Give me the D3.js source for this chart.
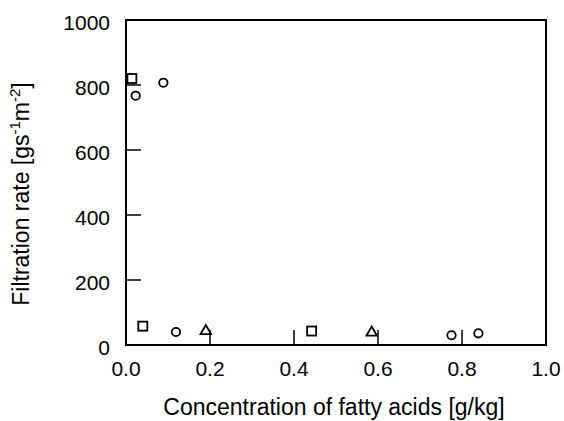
<!DOCTYPE html>
<html>
<head>
<meta charset="utf-8">
<script src="https://cdn.jsdelivr.net/npm/d3@7"></script>
<style>
  html, body { margin: 0; padding: 0; background: #fff; }
  svg text { font-family: 'Liberation Sans', Arial, sans-serif; fill: #000; }
</style>
</head>
<body>
<div id="chart"></div>
<script>
(function () {
  'use strict';

  // ── Data ──────────────────────────────────────────────────────
  const squares   = [[0.014, 820], [0.040, 58], [0.442, 43]];
  const circles   = [[0.023, 767], [0.089, 807], [0.119, 40], [0.775, 30], [0.839, 36]];
  const triangles = [[0.190, 43], [0.585, 38]];

  const xTicks = [0.0, 0.2, 0.4, 0.6, 0.8, 1.0];
  const yTicks = [0, 200, 400, 600, 800, 1000];
  const xInnerTicks = [0.2, 0.4, 0.6, 0.8];
  const yInnerTicks = [200, 400, 600, 800];

  // ── Layout ────────────────────────────────────────────────────
  const W = 564, H = 421;
  const L = 126, R = 546, T = 20, B = 345;

  const x = d3.scaleLinear().domain([0, 1]).range([L, R]);
  const y = d3.scaleLinear().domain([0, 1000]).range([B, T]);

  const svg = d3.select('#chart').append('svg')
    .attr('width', W).attr('height', H);

  // frame
  svg.append('rect')
    .attr('x', L).attr('y', T)
    .attr('width', R - L).attr('height', B - T)
    .attr('fill', 'none').attr('stroke', '#000').attr('stroke-width', 2);

  // inner ticks
  svg.append('g').selectAll('line').data(xInnerTicks).join('line')
    .attr('x1', d => x(d)).attr('x2', d => x(d))
    .attr('y1', B).attr('y2', B - 15)
    .attr('stroke', '#000').attr('stroke-width', 1.5);
  svg.append('g').selectAll('line').data(yInnerTicks).join('line')
    .attr('x1', L).attr('x2', L + 15)
    .attr('y1', d => y(d)).attr('y2', d => y(d))
    .attr('stroke', '#000').attr('stroke-width', 1.5);

  // tick labels
  svg.append('g').selectAll('text').data(xTicks).join('text')
    .attr('x', d => x(d)).attr('y', 376)
    .attr('text-anchor', 'middle')
    .attr('font-size', '21px')
    .text(d => d.toFixed(1));
  svg.append('g').selectAll('text').data(yTicks).join('text')
    .attr('x', 110).attr('y', d => y(d) + 9.5)
    .attr('text-anchor', 'end')
    .attr('font-size', '21px')
    .text(d => d);

  // axis titles
  svg.append('text')
    .attr('x', 334).attr('y', 415)
    .attr('text-anchor', 'middle')
    .attr('font-size', '23px')
    .text('Concentration of fatty acids [g/kg]');

  const yt = svg.append('text')
    .attr('transform', 'translate(28.5,194) rotate(-90)')
    .attr('text-anchor', 'middle')
    .attr('font-size', '23px');
  yt.append('tspan').text('Filtration rate [gs');
  yt.append('tspan').attr('dy', -9).attr('font-size', '15px').text('-1');
  yt.append('tspan').attr('dy', 9).text('m');
  yt.append('tspan').attr('dy', -9).attr('font-size', '15px').text('-2');
  yt.append('tspan').attr('dy', 9).text(']');

  // ── Markers ───────────────────────────────────────────────────
  const g = svg.append('g')
    .attr('fill', 'none').attr('stroke', '#000').attr('stroke-width', 1.8);

  g.selectAll('rect.sq').data(squares).join('rect')
    .attr('class', 'sq')
    .attr('x', d => x(d[0]) - 4.5).attr('y', d => y(d[1]) - 4.5)
    .attr('width', 9).attr('height', 9);

  g.selectAll('circle').data(circles).join('circle')
    .attr('cx', d => x(d[0])).attr('cy', d => y(d[1]))
    .attr('r', 4.2);

  const tri = d3.symbol().type(d3.symbolTriangle).size(48);
  g.selectAll('path.tri').data(triangles).join('path')
    .attr('class', 'tri')
    .attr('transform', d => `translate(${x(d[0])},${y(d[1])})`)
    .attr('d', tri);
})();
</script>
</body>
</html>
